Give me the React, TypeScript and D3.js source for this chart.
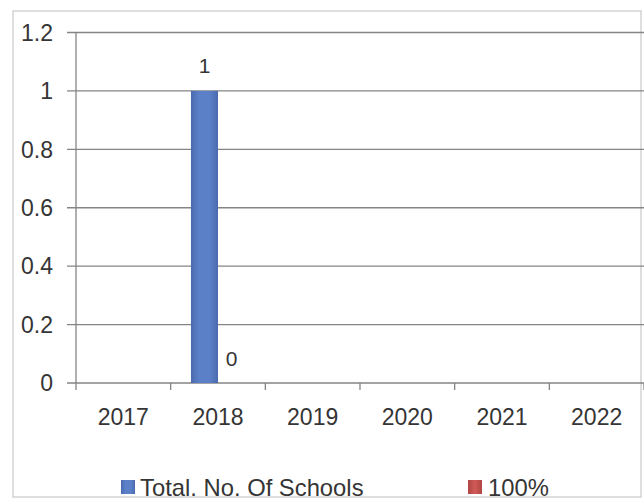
import React from "react";
import * as d3 from "d3";

const categories = ["2017", "2018", "2019", "2020", "2021", "2022"];
const seriesNames = ["Total. No. Of Schools", "100%"];
const totalSchools: (number | null)[] = [null, 1, null, null, null, null];
const percent100: (number | null)[] = [null, 0, null, null, null, null];
const yTicks = [0, 0.2, 0.4, 0.6, 0.8, 1, 1.2];
const yTickLabels = ["0", "0.2", "0.4", "0.6", "0.8", "1", "1.2"];

const W = 644;
const H = 504;
const FONT = "'Liberation Sans', Arial, sans-serif";

export default function App() {
  const x = d3.scaleBand<string>().domain(categories).range([76, 644]).paddingInner(0).paddingOuter(0);
  const y = d3.scaleLinear().domain([0, 1.2]).range([383, 32.5]);
  const bw = x.bandwidth();
  const barW = bw / 3.5;
  const series = [totalSchools, percent100];
  const barX = (c: string, si: number) => (x(c) as number) + bw / 2 + (si - 1) * barW;
  const textColor = "#353535";

  return (
    <svg
      width={W}
      height={H}
      style={{ position: "absolute", left: 0, top: 0, background: "#fff" }}
      fontFamily={FONT}
    >
      <defs>
        <linearGradient id="gBlue" x1="0" x2="1" y1="0" y2="0">
          <stop offset="0" stopColor="#4a6aae" />
          <stop offset="0.3" stopColor="#5b80c8" />
          <stop offset="0.7" stopColor="#5b80c8" />
          <stop offset="1" stopColor="#4a6aae" />
        </linearGradient>
        <linearGradient id="gRed" x1="0" x2="1" y1="0" y2="0">
          <stop offset="0" stopColor="#b04644" />
          <stop offset="0.5" stopColor="#d05a57" />
          <stop offset="1" stopColor="#b04644" />
        </linearGradient>
      </defs>
      <rect x={13} y={11} width={628} height={486} fill="#fff" stroke="#c8c8c8" strokeWidth={1.2} />
      {yTicks.map((t, i) => (
        <g key={i}>
          <line x1={67} x2={644} y1={y(t)} y2={y(t)} stroke="#858585" strokeWidth={1.3} />
          <text x={53} y={y(t)} dy="0.36em" textAnchor="end" fontSize={23} fill={textColor}>
            {yTickLabels[i]}
          </text>
        </g>
      ))}
      <line x1={76} x2={76} y1={y(1.2)} y2={y(0)} stroke="#858585" strokeWidth={1.3} />
      {categories.concat(["end"]).map((c, i) => {
        const xx = i < categories.length ? (x(c) as number) : 644;
        return <line key={c} x1={xx} x2={xx} y1={y(0)} y2={y(0) + 7} stroke="#858585" strokeWidth={1.3} />;
      })}
      {series.map((s, si) =>
        categories.map((c, ci) => {
          const v = s[ci];
          if (v === null) return null;
          const bx = barX(c, si);
          return (
            <g key={`${si}-${ci}`}>
              {v > 0 && (
                <rect
                  x={bx}
                  y={y(v)}
                  width={barW}
                  height={y(0) - y(v)}
                  fill={si === 0 ? "url(#gBlue)" : "url(#gRed)"}
                />
              )}
              <text x={bx + barW / 2} y={y(v) - 25} dy="0.36em" textAnchor="middle" fontSize={21} fill={textColor}>
                {String(v)}
              </text>
            </g>
          );
        })
      )}
      {categories.map((c) => (
        <text
          key={c}
          x={(x(c) as number) + bw / 2}
          y={417}
          dy="0.36em"
          textAnchor="middle"
          fontSize={23}
          fill={textColor}
        >
          {c}
        </text>
      ))}
      <rect x={121} y={480} width={14} height={14} fill="url(#gBlue)" />
      <text x={140} y={487} dy="0.36em" fontSize={23.8} fill={textColor}>
        {seriesNames[0]}
      </text>
      <rect x={468} y={480} width={14} height={14} fill="url(#gRed)" />
      <text x={488} y={487} dy="0.36em" fontSize={23.8} fill={textColor}>
        {seriesNames[1]}
      </text>
    </svg>
  );
}
